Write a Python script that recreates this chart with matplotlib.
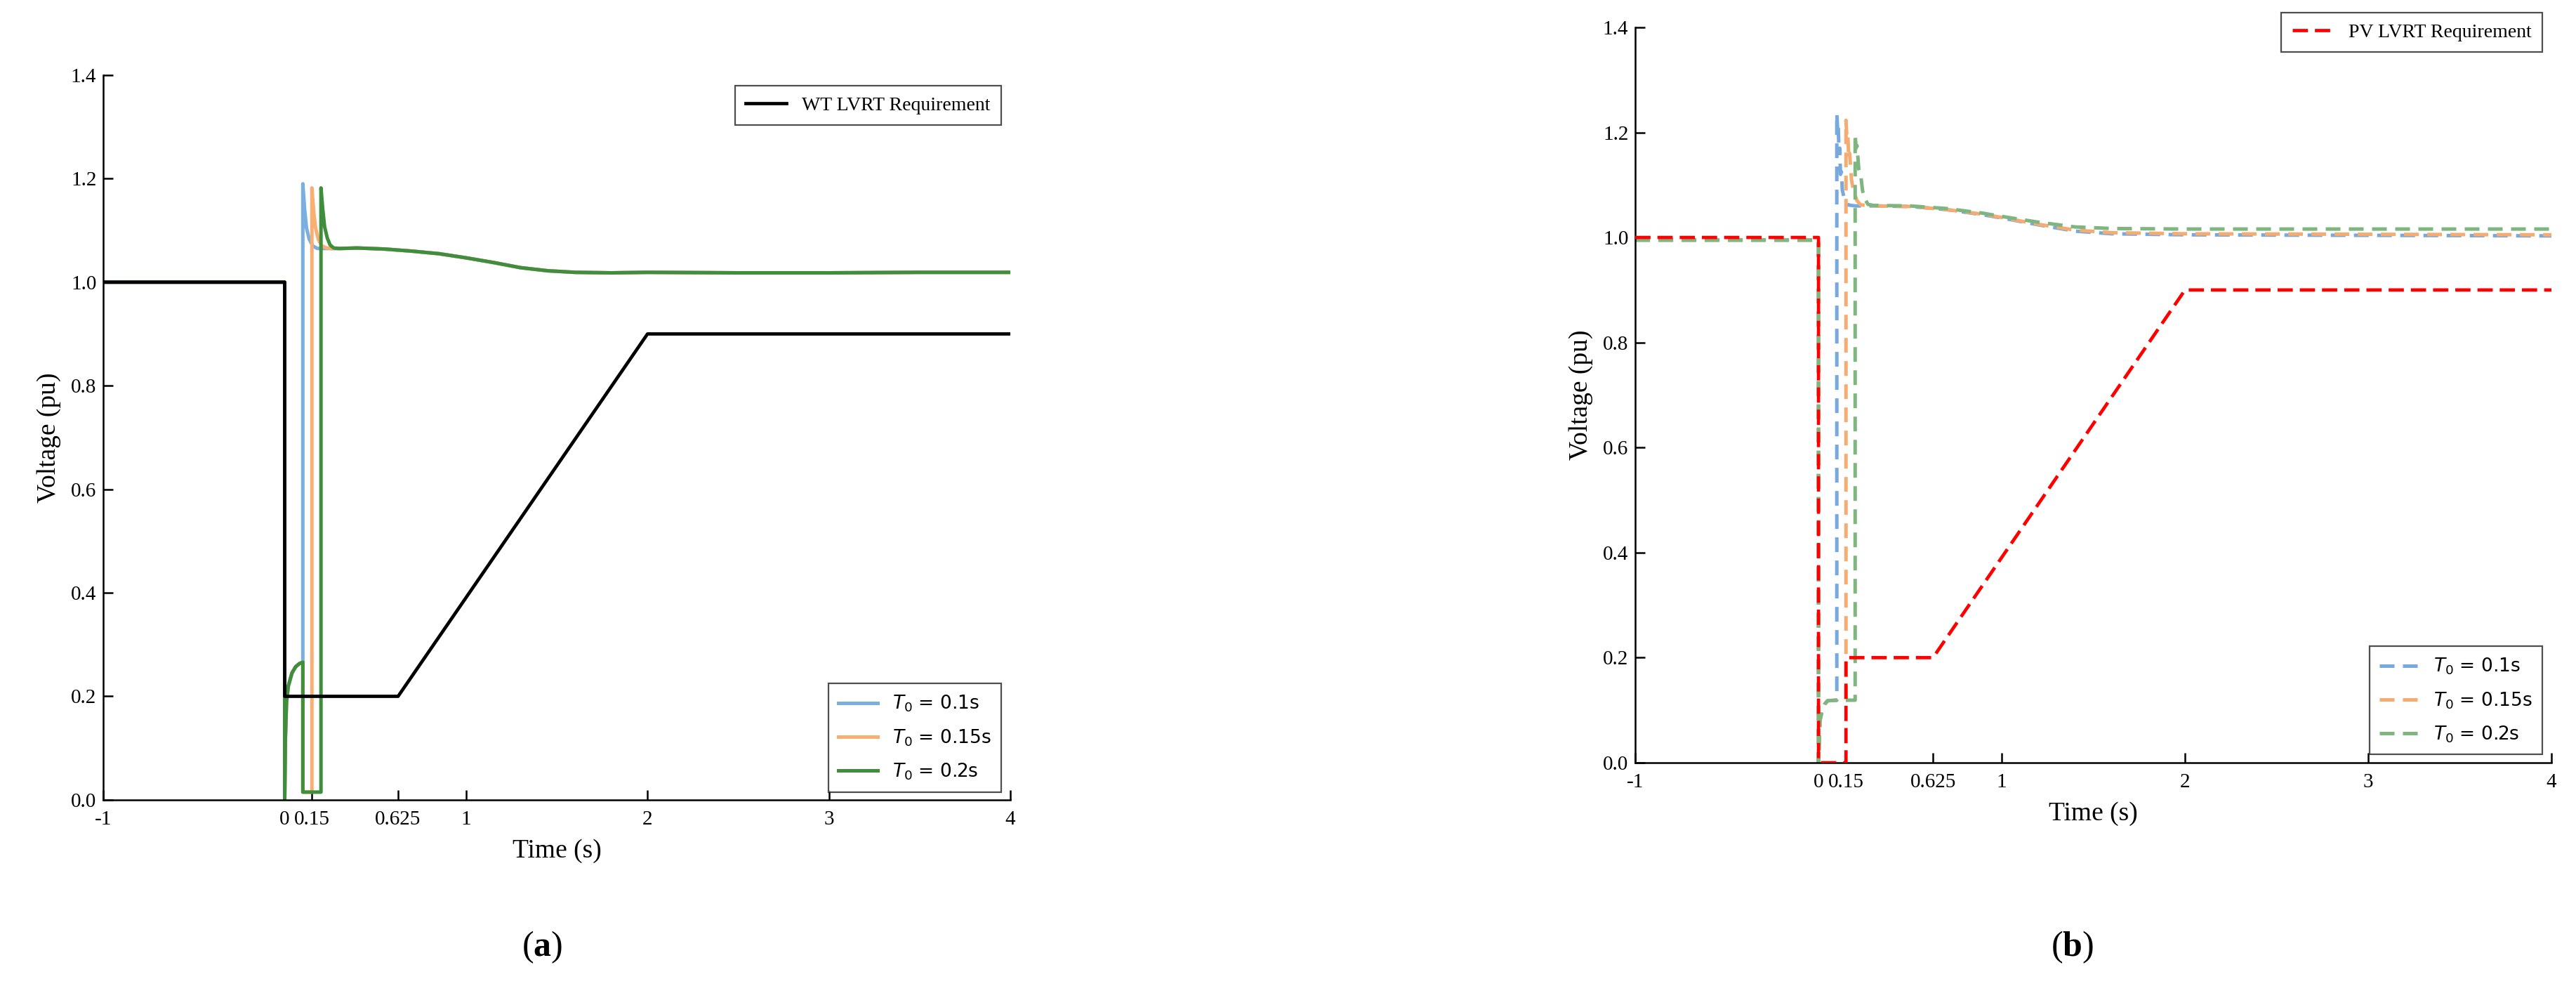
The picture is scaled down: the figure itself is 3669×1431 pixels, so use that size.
import matplotlib

matplotlib.use('Agg')
import matplotlib.pyplot as plt

plt.rcParams['font.family'] = ['Liberation Serif', 'DejaVu Serif']
plt.rcParams['mathtext.fontset'] = 'custom'
plt.rcParams['mathtext.it'] = 'DejaVu Sans:italic'
plt.rcParams['mathtext.rm'] = 'DejaVu Sans'
plt.rcParams['mathtext.bf'] = 'Liberation Serif:bold'

# x ticks shared by both panels
x_ticks = [-1, 0, 0.15, 0.625, 1, 2, 3, 4]
x_tick_labels = ['-1', '0', '0.15', '0.625', '1', '2', '3', '4']
y_ticks = [0.0, 0.2, 0.4, 0.6, 0.8, 1.0, 1.2, 1.4]

# ---- (a) wind turbine ----
wt_req_t = [-1, 0, 0, 0.625, 2, 4]
wt_req_v = [1.0, 1.0, 0.2, 0.2, 0.9, 0.9]

a_fault_t = [-1, 0, 0, 0.004, 0.01, 0.02, 0.04, 0.06, 0.08, 0.1]
a_fault_v = [1.0, 1.0, 0.0, 0.12, 0.19, 0.22, 0.245, 0.257, 0.263, 0.266]

a_rec_t = [0.3, 0.4, 0.55, 0.7, 0.85, 1.0, 1.15, 1.3, 1.45, 1.6, 1.8, 2.0, 2.5, 3.0, 3.5, 4.0]
a_rec_v = [1.065, 1.066, 1.064, 1.060, 1.055, 1.047, 1.038, 1.028, 1.022, 1.019, 1.018, 1.019,
           1.018, 1.018, 1.019, 1.019]

a_t01_t = [0.1, 0.11, 0.12, 0.135, 0.155, 0.18, 0.25]
a_t01_v = [1.19, 1.14, 1.105, 1.083, 1.07, 1.065, 1.065]
a_t015_t = [0.1, 0.15, 0.15, 0.16, 0.17, 0.185, 0.205, 0.23, 0.26]
a_t015_v = [0.015, 0.015, 1.182, 1.135, 1.105, 1.083, 1.07, 1.066, 1.065]
a_t02_t = [0.1, 0.2, 0.2, 0.21, 0.22, 0.235, 0.25, 0.27]
a_t02_v = [0.015, 0.015, 1.182, 1.14, 1.107, 1.085, 1.072, 1.066]

# ---- (b) photovoltaic ----
pv_req_t = [-1, 0, 0, 0.15, 0.15, 0.625, 2, 4]
pv_req_v = [1.0, 1.0, 0.0, 0.0, 0.2, 0.2, 0.9, 0.9]

b_fault_t = [-1, 0, 0, 0.008, 0.02, 0.035, 0.05, 0.1]
b_fault_v = [0.995, 0.995, 0.0, 0.08, 0.1, 0.112, 0.118, 0.119]

b_rec_t = [0.3, 0.5, 0.7, 0.9, 1.0, 1.2, 1.4, 1.6, 2.0, 3.0, 4.0]
b_rec_t01 = [1.060, 1.059, 1.053, 1.043, 1.037, 1.024, 1.012, 1.007, 1.005, 1.004, 1.003]
b_rec_t015 = [1.060, 1.059, 1.053, 1.044, 1.038, 1.025, 1.014, 1.009, 1.007, 1.006, 1.005]
b_rec_t02 = [1.061, 1.060, 1.055, 1.046, 1.040, 1.029, 1.020, 1.017, 1.016, 1.016, 1.016]

b_t01_t = [0.1, 0.105, 0.108, 0.112, 0.116, 0.12, 0.125, 0.13, 0.14, 0.16, 0.2]
b_t01_v = [1.236, 1.2, 1.21, 1.16, 1.17, 1.12, 1.125, 1.09, 1.075, 1.062, 1.06]
b_t015_t = [0.1, 0.15, 0.15, 0.155, 0.16, 0.165, 0.17, 0.18, 0.19, 0.21, 0.23]
b_t015_v = [0.119, 0.119, 1.223, 1.19, 1.195, 1.15, 1.16, 1.11, 1.09, 1.07, 1.062]
b_t02_t = [0.1, 0.2, 0.2, 0.205, 0.21, 0.22, 0.23, 0.24, 0.25, 0.27]
b_t02_v = [0.119, 0.119, 1.197, 1.17, 1.175, 1.13, 1.12, 1.09, 1.075, 1.063]

labels = [r'$T_0$ = 0.1s', r'$T_0$ = 0.15s', r'$T_0$ = 0.2s']
colors_a = ['#7BAFE0', '#F9AE72', '#3F8E3B']
colors_b = ['#78A9DE', '#F5AC72', '#7FB57E']


def style_axes(ax):
    ax.set_xlim(-1, 4)
    ax.set_ylim(0, 1.4)
    ax.set_xticks(x_ticks)
    ax.set_xticklabels(x_tick_labels)
    ax.set_yticks(y_ticks)
    ax.set_yticklabels([f'{v:.1f}' for v in y_ticks])
    for s in ['top', 'right']:
        ax.spines[s].set_visible(False)
    for s in ['left', 'bottom']:
        ax.spines[s].set_linewidth(1.8)
    ax.tick_params(direction='in', length=10, width=1.8, labelsize=21)
    ax.tick_params(axis='x', pad=11)
    ax.tick_params(axis='y', pad=7)
    ax.set_xlabel('Time (s)', fontsize=27, labelpad=10)
    ax.set_ylabel('Voltage (pu)', fontsize=27, labelpad=10)


def add_legends(ax, req_line, req_label, lines, top_y):
    leg = ax.legend([req_line], [req_label], loc='upper right',
                    bbox_to_anchor=(0.99, top_y), borderaxespad=0, fontsize=20,
                    fancybox=False, edgecolor='#222222', handlelength=2.1, borderpad=0.55)
    leg.get_frame().set_linewidth(1.6)
    ax.add_artist(leg)
    leg2 = ax.legend(lines, labels, loc='lower right', bbox_to_anchor=(0.99, 0.011),
                     borderaxespad=0, prop={'family': 'DejaVu Sans', 'size': 19},
                     fancybox=False, edgecolor='#222222', handlelength=2.1,
                     labelspacing=0.75, borderpad=0.55)
    leg2.get_frame().set_linewidth(1.6)


fig = plt.figure(figsize=(36.69, 14.31), dpi=100)
ax1 = fig.add_axes([0.0401, 0.2041, 0.3521, 0.7212])
ax2 = fig.add_axes([0.6348, 0.2411, 0.3557, 0.7317])

# panel (a)
a_series = [
    (a_fault_t + a_t01_t + a_rec_t, a_fault_v + a_t01_v + a_rec_v),
    (a_fault_t + a_t015_t + a_rec_t, a_fault_v + a_t015_v + a_rec_v),
    (a_fault_t + a_t02_t + a_rec_t, a_fault_v + a_t02_v + a_rec_v),
]
lines_a = []
for (t, v), c, lab in zip(a_series, colors_a, labels):
    ln, = ax1.plot(t, v, color=c, lw=3.6, label=lab, zorder=2)
    lines_a.append(ln)
req_a, = ax1.plot(wt_req_t, wt_req_v, color='black', lw=3.4, zorder=3)
style_axes(ax1)
add_legends(ax1, req_a, 'WT LVRT Requirement', lines_a, 0.985)

# panel (b)
b_series = [
    (b_fault_t + b_t01_t + b_rec_t, b_fault_v + b_t01_v + b_rec_t01),
    (b_fault_t + b_t015_t + b_rec_t, b_fault_v + b_t015_v + b_rec_t015),
    (b_fault_t + b_t02_t + b_rec_t, b_fault_v + b_t02_v + b_rec_t02),
]
lines_b = []
for (t, v), c, lab in zip(b_series, colors_b, labels):
    ln, = ax2.plot(t, v, color=c, lw=3.6, ls=(0, (4.2, 2.4)), label=lab, zorder=2)
    lines_b.append(ln)
req_b, = ax2.plot(pv_req_t, pv_req_v, color='#FF0000', lw=3.4, ls=(0, (4.6, 2.1)), zorder=3)
style_axes(ax2)
add_legends(ax2, req_b, 'PV LVRT Requirement', lines_b, 1.02)

fig.text(772 / 3669, 1 - 1349 / 1431, r'($\mathbf{a}$)', fontsize=36, ha='center', va='center')
fig.text(2951 / 3669, 1 - 1349 / 1431, r'($\mathbf{b}$)', fontsize=36, ha='center', va='center')

fig.savefig('out.png', dpi=100)
